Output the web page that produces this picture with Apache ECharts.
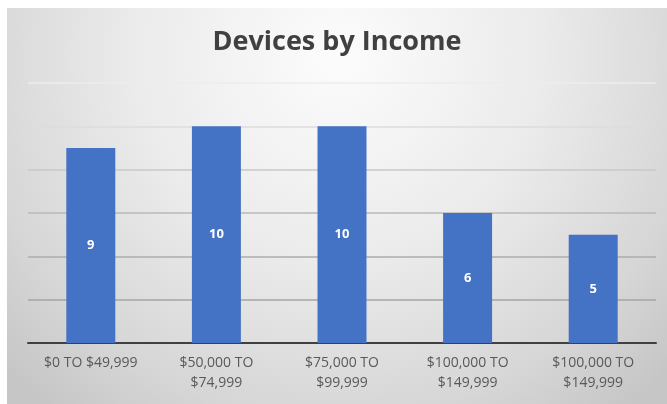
<!DOCTYPE html>
<html>
<head>
<meta charset="utf-8">
<style>
html,body{margin:0;padding:0;background:#fff;}
#chart{position:absolute;left:7px;top:8px;width:660px;height:396px;}
</style>
<script src="https://cdn.jsdelivr.net/npm/echarts@6/dist/echarts.min.js"></script>
</head>
<body>
<div id="chart"></div>
<script>
var titleText = 'Devices by Income';
var categories = ['$0 TO $49,999', '$50,000 TO\n$74,999', '$75,000 TO\n$99,999', '$100,000 TO\n$149,999', '$100,000 TO\n$149,999'];
var devices = [9, 10, 10, 6, 5];
var yTicks = [0, 2, 4, 6, 8, 10, 12];

var chart = echarts.init(document.getElementById('chart'));
chart.setOption({
  backgroundColor: {
    type: 'radial', x: 0.5, y: 0.12, r: 1.15,
    colorStops: [
      {offset: 0, color: '#fcfcfc'},
      {offset: 0.45, color: '#ebebeb'},
      {offset: 0.8, color: '#d6d6d6'},
      {offset: 1, color: '#c6c6c6'}
    ]
  },
  title: {
    text: titleText,
    left: 'center',
    top: 16,
    textStyle: {fontFamily: 'Open Sans', fontWeight: 'bold', fontSize: 27, color: '#404040'}
  },
  grid: {left: 21, right: 11, top: 75, bottom: 61},
  xAxis: {
    type: 'category',
    data: categories,
    axisLine: {lineStyle: {color: '#404040', width: 2}},
    axisTick: {show: false},
    axisLabel: {fontFamily: 'Open Sans', fontSize: 14, color: '#595959', lineHeight: 20, margin: 10, interval: 0}
  },
  yAxis: {
    type: 'value',
    min: yTicks[0], max: yTicks[yTicks.length - 1], interval: 2,
    axisLabel: {show: false},
    axisLine: {show: false},
    axisTick: {show: false},
    splitLine: {lineStyle: {width: 1.5, color: ['#404040', '#a4a4a4', '#acacac', '#b8b8b8', '#c8c8c8', '#dcdcdc', '#ececec']}}
  },
  series: [{
    type: 'bar',
    data: devices,
    barWidth: '39%',
    itemStyle: {color: '#4472C4'},
    label: {show: true, position: 'inside', color: '#ffffff', fontFamily: 'Open Sans', fontWeight: 'bold', fontSize: 13}
  }],
  animation: false
});
</script>
</body>
</html>
